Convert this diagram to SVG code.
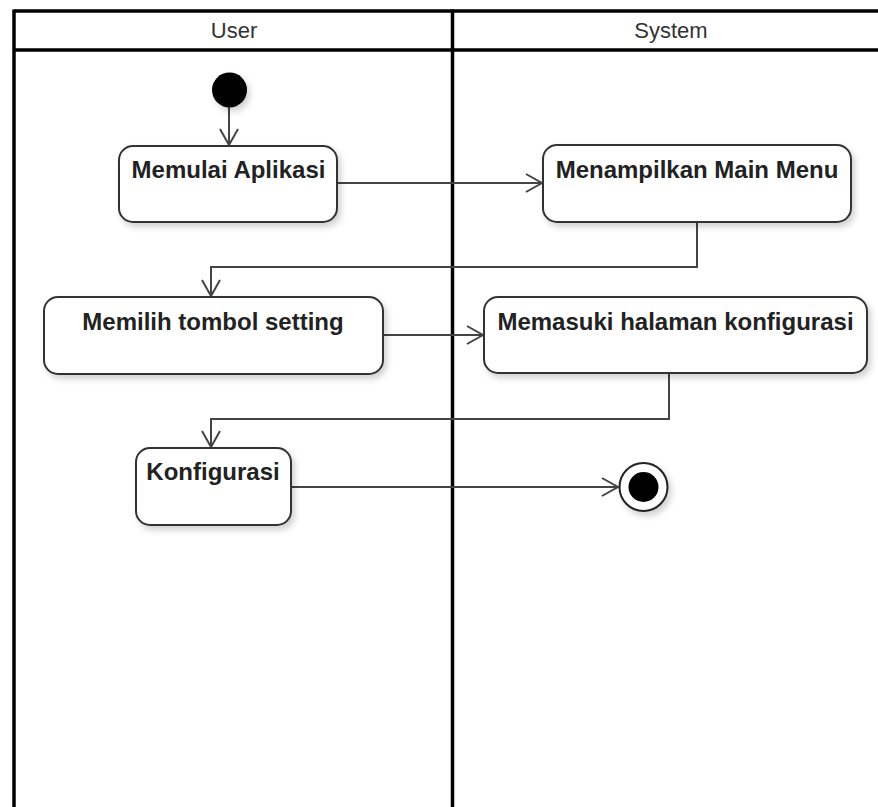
<svg xmlns="http://www.w3.org/2000/svg" width="878" height="807" viewBox="0 0 878 807">
  <style>
    .lane { fill: none; stroke: #000; stroke-width: 3.5; }
    .lane-title { font-family: "Liberation Sans", Arial, sans-serif; font-size: 22px; fill: #333; text-anchor: middle; }
    .action { fill: #fff; stroke: #333; stroke-width: 2; filter: url(#shadow); }
    .label { font-family: "Liberation Sans", Arial, sans-serif; font-size: 24px; font-weight: bold; fill: #222; text-anchor: middle; }
    .flow { fill: none; stroke: #444; stroke-width: 2; marker-end: url(#open-arrow); }
  </style>
  <defs>
    <filter id="shadow" x="-10%" y="-10%" width="130%" height="140%">
      <feDropShadow dx="3" dy="4" stdDeviation="3" flood-color="#000" flood-opacity="0.18"/>
    </filter>
    <marker id="open-arrow" markerUnits="userSpaceOnUse" markerWidth="20" markerHeight="22" viewBox="0 0 20 22" refX="18" refY="11" orient="auto">
      <path d="M2,2 L18,11 L2,20" fill="none" stroke="#444" stroke-width="2"/>
    </marker>
  </defs>
  <rect width="878" height="807" fill="#fff"/>

  <!-- swimlanes -->
  <g id="lanes">
    <line class="lane" x1="14" y1="11" x2="878" y2="11"/>
    <line class="lane" x1="14" y1="50" x2="878" y2="50"/>
    <line class="lane" x1="14" y1="9.5" x2="14" y2="807"/>
    <line class="lane" x1="452.5" y1="9.5" x2="452.5" y2="807"/>
    <text class="lane-title" x="234" y="38">User</text>
    <text class="lane-title" x="671" y="38">System</text>
  </g>

  <!-- connectors -->
  <g id="connectors">
    <path class="flow" d="M229,107 L229,145"/>
    <path class="flow" d="M337,183 L542,183"/>
    <path class="flow" d="M697,222 L697,267 L211,267 L211,296"/>
    <path class="flow" d="M383,335 L483,335"/>
    <path class="flow" d="M669,373 L669,419 L211,419 L211,447"/>
    <path class="flow" d="M291,487 L618,487"/>
  </g>

  <g id="start">
    <circle cx="229.5" cy="90" r="17.5" fill="#000" filter="url(#shadow)"/>
  </g>

  <g id="memulai-aplikasi">
    <rect class="action" x="119" y="146" width="218" height="76" rx="14"/>
    <text class="label" x="228.5" y="178">Memulai Aplikasi</text>
  </g>

  <g id="menampilkan-main-menu">
    <rect class="action" x="543" y="145" width="308" height="77" rx="14"/>
    <text class="label" x="697" y="178">Menampilkan Main Menu</text>
  </g>

  <g id="memilih-tombol-setting">
    <rect class="action" x="44" y="297" width="339" height="77" rx="14"/>
    <text class="label" x="213" y="330">Memilih tombol setting</text>
  </g>

  <g id="memasuki-halaman-konfigurasi">
    <rect class="action" x="484" y="297" width="383" height="76" rx="14"/>
    <text class="label" x="675.5" y="330">Memasuki halaman konfigurasi</text>
  </g>

  <g id="konfigurasi">
    <rect class="action" x="136" y="448" width="155" height="77" rx="14"/>
    <text class="label" x="213" y="480">Konfigurasi</text>
  </g>

  <g id="end">
    <circle cx="643.5" cy="487" r="24" fill="#fff" stroke="#222" stroke-width="2" filter="url(#shadow)"/>
    <circle cx="643.5" cy="487" r="15" fill="#000"/>
  </g>
</svg>
